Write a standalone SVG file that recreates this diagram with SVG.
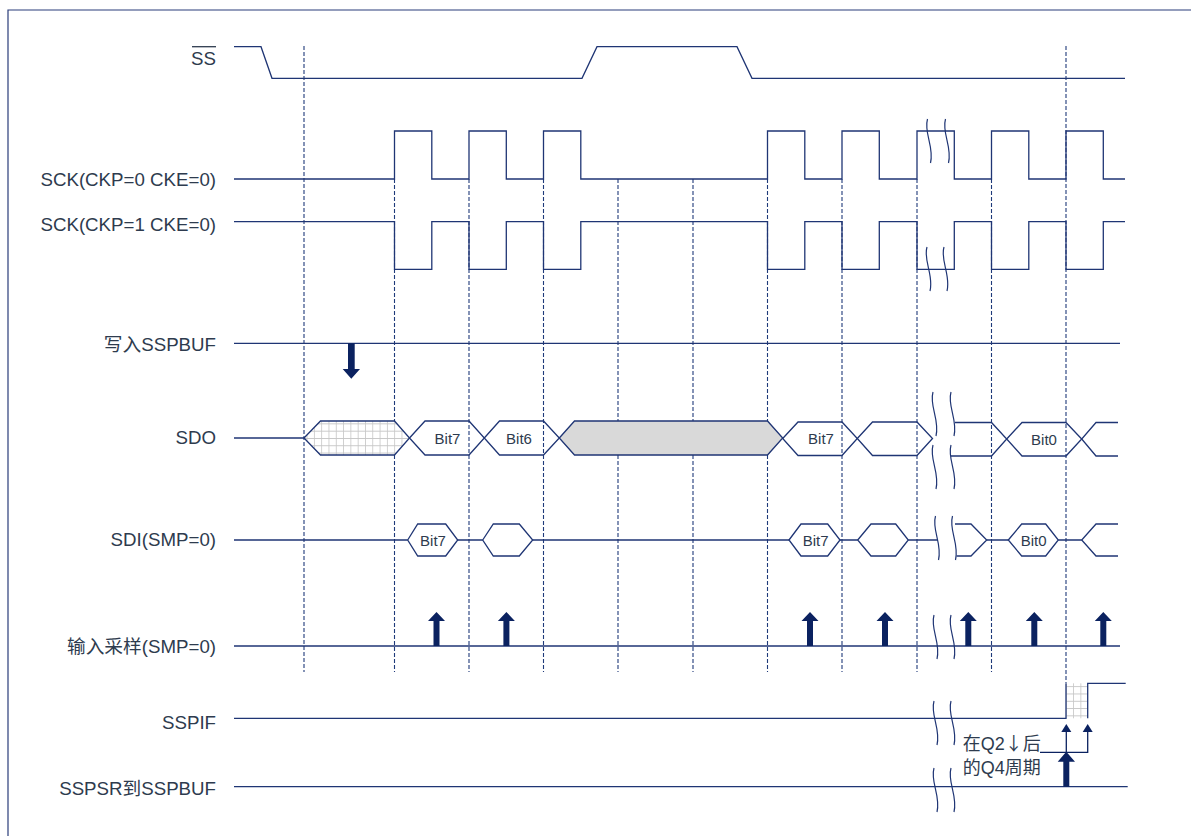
<svg xmlns="http://www.w3.org/2000/svg" xmlns:xlink="http://www.w3.org/1999/xlink" width="1191" height="836" viewBox="0 0 1191 836">
<style>
.lbl{font-family:"Liberation Sans",Arial,"Noto Sans CJK SC",sans-serif;font-size:18.7px;fill:#2e3b4e;text-anchor:end}
.bit{font-family:"Liberation Sans",Arial,sans-serif;font-size:15px;fill:#2e3b4e;text-anchor:middle}
.ann{font-family:"Liberation Sans",Arial,"Noto Sans CJK SC",sans-serif;font-size:18px;fill:#2e3b4e}
.cjk{font-family:"Noto Sans CJK SC",sans-serif}
.sig{fill:none;stroke:#1f3574;stroke-width:1.3}
.hex{fill:none;stroke:#1f3574;stroke-width:1.3}
.grey{fill:#d9d9d9;stroke:#1f3574;stroke-width:1.3}
.hatch{fill:url(#grid);stroke:#1f3574;stroke-width:1.3}
.dash{fill:none;stroke:#1f3a7a;stroke-width:1.1;stroke-dasharray:4 2}
.brk{fill:none;stroke:#1f3574;stroke-width:1.2}
.arr{fill:#0b2260}
.thin{fill:none;stroke:#0b2260;stroke-width:1.3}
</style>
<defs>
<pattern id="grid" patternUnits="userSpaceOnUse" width="7.3" height="7.3">
<rect width="7.3" height="7.3" fill="#ffffff"/>
<path d="M0,0 H7.3 M0,0 V7.3" stroke="#c6c6c6" stroke-width="1.6"/>
</pattern>
<path id="brk" class="brk" d="M0,0 C-4,14 7,28 3,44"/>
<path id="up" class="arr" d="M-3,0 V-25 H-8.5 L0,-34 L8.5,-25 H3 V0 Z"/>
</defs>

<!-- frame -->
<path d="M8,836 V10 H1191" fill="none" stroke="#2a3d7a" stroke-width="1.2"/>

<!-- guides -->
<g id="guides">
<line class="dash" x1="304" y1="46" x2="304" y2="672"/>
<line class="dash" x1="394.5" y1="179" x2="394.5" y2="672"/>
<line class="dash" x1="469" y1="179" x2="469" y2="672"/>
<line class="dash" x1="543.5" y1="179" x2="543.5" y2="672"/>
<line class="dash" x1="618" y1="179" x2="618" y2="672"/>
<line class="dash" x1="693" y1="179" x2="693" y2="672"/>
<line class="dash" x1="767.5" y1="179" x2="767.5" y2="672"/>
<line class="dash" x1="842" y1="179" x2="842" y2="672"/>
<line class="dash" x1="917" y1="179" x2="917" y2="672"/>
<line class="dash" x1="991.5" y1="179" x2="991.5" y2="672"/>
<line class="dash" x1="1066" y1="46" x2="1066" y2="683"/>
</g>

<!-- SS -->
<g id="ss">
<text class="lbl" x="216" y="65">SS</text>
<line x1="192" y1="46.7" x2="216" y2="46.7" stroke="#2e3b4e" stroke-width="1.3"/>
<path class="sig" d="M234,46.7 H261 L272,78.3 H582 L597,46.7 H737 L752,78.3 H1125"/>
</g>

<!-- SCK CKP=0 -->
<g id="sck0">
<text class="lbl" x="216" y="185.7">SCK(CKP=0 CKE=0)</text>
<path class="sig" d="M234,179 H394.5 V131 H431.8 V179 H469 V131 H506.3 V179 H543.5 V131 H580.8 V179 H767.5 V131 H804.8 V179 H842 V131 H879.3 V179 H917 V131 H954.3 V179 H991.5 V131 H1028.8 V179 H1066 V131 H1103.3 V179 H1125"/>
<use href="#brk" x="927.5" y="119"/>
<use href="#brk" x="945.5" y="119"/>
</g>

<!-- SCK CKP=1 -->
<g id="sck1">
<text class="lbl" x="216" y="231">SCK(CKP=1 CKE=0)</text>
<path class="sig" d="M234,221.7 H394.5 V269.3 H431.8 V221.7 H469 V269.3 H506.3 V221.7 H543.5 V269.3 H580.8 V221.7 H767.5 V269.3 H804.8 V221.7 H842 V269.3 H879.3 V221.7 H917 V269.3 H954.3 V221.7 H991.5 V269.3 H1028.8 V221.7 H1066 V269.3 H1103.3 V221.7 H1125"/>
<use href="#brk" x="927" y="247"/>
<use href="#brk" x="944" y="247"/>
</g>

<!-- write SSPBUF -->
<g id="wr">
<text class="lbl" x="216" y="351">写入SSPBUF</text>
<line class="sig" x1="234" y1="343.3" x2="1120" y2="343.3"/>
</g>

<!-- SDO -->
<g id="sdo">
<text class="lbl" x="216" y="443.5">SDO</text>
<line class="sig" x1="234" y1="438" x2="304" y2="438"/>
<polygon class="hatch" points="304,438 320.5,421 394.5,421 409.5,438 394.5,455 320.5,455"/>
<polygon class="hex" points="409.5,438 425,421 469,421 484.3,438 469,455 425,455"/>
<polygon class="hex" points="484.3,438 499.5,421 543.5,421 559.3,438 543.5,455 499.5,455"/>
<polygon class="grey" points="559.3,438 574.5,421 767.5,421 782.7,438 767.5,455 574.5,455"/>
<polygon class="hex" points="782.7,438.5 798,422 842,422 857.3,438.5 842,455.5 798,455.5"/>
<polygon class="hex" points="857.3,438.5 872.5,422 917,422 932.5,438.5 917,455.5 872.5,455.5"/>
<path class="sig" d="M955,422.5 H991.5 L1006.7,439 L991.5,456 H951"/>
<polygon class="hex" points="1006.7,439 1022,422.5 1066,422.5 1081.7,439 1066,456 1022,456"/>
<path class="sig" d="M1118,422.5 H1096 L1081.7,439 L1096,456 H1118"/>
<text class="bit" x="447.5" y="443.5">Bit7</text>
<text class="bit" x="519" y="443.5">Bit6</text>
<text class="bit" x="821" y="444">Bit7</text>
<text class="bit" x="1044" y="444.5">Bit0</text>
<use href="#brk" x="933" y="392"/>
<use href="#brk" x="951" y="392"/>
<use href="#brk" x="933" y="445"/>
<use href="#brk" x="951" y="445"/>
</g>

<!-- SDI -->
<g id="sdi">
<text class="lbl" x="216" y="545.5">SDI(SMP=0)</text>
<path class="sig" d="M234,540 H407.7 M457.7,540 H482.7 M532.7,540 H789 M840,540 H857.7 M908.3,540 H938 M986.7,540 H1008.3 M1058.3,540 H1081.7"/>
<polygon class="hex" points="407.7,540 417.7,524 445.7,524 457.7,540 445.7,556 417.7,556"/>
<polygon class="hex" points="482.7,540 493.3,524 519.3,524 532.7,540 519.3,556 493.3,556"/>
<polygon class="hex" points="789,540 801,524 827.7,524 840,540 827.7,556 801,556"/>
<polygon class="hex" points="857.7,540 871,524 895.7,524 908.3,540 895.7,556 871,556"/>
<path class="sig" d="M955,524 H971 L986.7,540 L971,556 H956.7"/>
<polygon class="hex" points="1008.3,540 1021.7,524 1045.7,524 1058.3,540 1045.7,556 1021.7,556"/>
<path class="sig" d="M1118,524 H1096 L1081.7,540 L1096,556 H1118"/>
<text class="bit" x="433" y="545.7">Bit7</text>
<text class="bit" x="815.7" y="545.7">Bit7</text>
<text class="bit" x="1033.7" y="545.7">Bit0</text>
<use href="#brk" x="935.5" y="516"/>
<use href="#brk" x="952.5" y="516"/>
</g>

<!-- input sampling -->
<g id="smp">
<text class="lbl" x="216" y="653">输入采样(SMP=0)</text>
<line class="sig" x1="234" y1="646" x2="1120" y2="646"/>
<use href="#brk" x="934" y="615"/>
<use href="#brk" x="951" y="615"/>
</g>

<!-- SSPIF -->
<g id="sspif">
<text class="lbl" x="216" y="729">SSPIF</text>
<rect x="1066" y="683.3" width="21.7" height="35" fill="url(#grid)"/>
<path class="sig" d="M234,718.3 H1066 V683.3 M1087.7,718.3 V683.3 H1125.7"/>
<use href="#brk" x="934" y="701"/>
<use href="#brk" x="951" y="701"/>
</g>

<!-- SSPSR to SSPBUF -->
<g id="sspsr">
<text class="lbl" x="216" y="795">SSPSR到SSPBUF</text>
<line class="sig" x1="234" y1="786.7" x2="1127.7" y2="786.7"/>
<use href="#brk" x="934" y="768"/>
<use href="#brk" x="951" y="768"/>
</g>

<!-- annotation -->
<g id="note">
<text class="ann" x="962.7" y="749.5">在Q2<tspan class="cjk">↓</tspan>后</text>
<text class="ann" x="962.7" y="773.5">的Q4周期</text>
</g>

<!-- connectors / arrows -->
<g id="connectors">
<path class="arr" d="M348,343.3 H354.7 V369 H360 L351.3,378.7 L342.7,369 H348 Z"/>
<use href="#up" x="436.5" y="646"/>
<use href="#up" x="506.4" y="646"/>
<use href="#up" x="810" y="646"/>
<use href="#up" x="885" y="646"/>
<use href="#up" x="968.3" y="646"/>
<use href="#up" x="1034.3" y="646"/>
<use href="#up" x="1103.3" y="646"/>
<path class="arr" d="M1063.3,786.7 V761.7 H1057.7 L1066.3,751.7 L1075,761.7 H1069.3 V786.7 Z"/>
<path class="thin" d="M1040,752.3 H1087.7 V731 M1066.3,752.3 V731"/>
<path class="arr" d="M1061.3,732 L1066.3,724 L1071.3,732 Z"/>
<path class="arr" d="M1082.7,732 L1087.7,724 L1092.7,732 Z"/>
</g>
</svg>
